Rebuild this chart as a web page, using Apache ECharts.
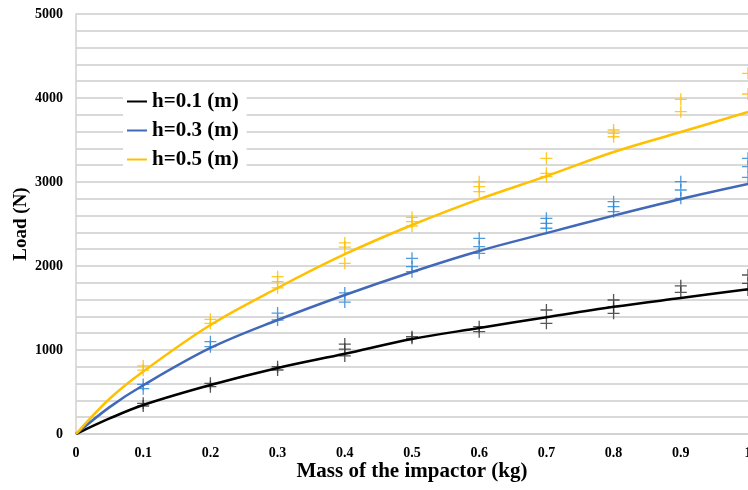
<!DOCTYPE html>
<html>
<head>
<meta charset="utf-8">
<script src="https://cdn.jsdelivr.net/npm/echarts@6/dist/echarts.min.js"></script>
<style>html,body{margin:0;padding:0;background:#fff}#c{width:748px;height:490px}</style>
</head>
<body>
<div id="c"></div>
<script>
// Fitted curves (x = mass in kg)
const curveX = [0, 0.05, 0.1, 0.2, 0.3, 0.4, 0.5, 0.6, 0.7, 0.8, 0.9, 1.0];
const lineH01 = [0, 185, 345, 583, 786, 955, 1131, 1262, 1390, 1514, 1619, 1722];
const lineH03 = [0, 320, 580, 1024, 1357, 1655, 1929, 2179, 2391, 2600, 2798, 2976];
const lineH05 = [0, 420, 745, 1298, 1738, 2140, 2488, 2796, 3070, 3357, 3595, 3833];

// Measured points [mass, load]
const pointsH01 = [[0.1,365],[0.1,333],[0.2,603],[0.2,563],[0.3,801],[0.3,762],
  [0.4,1070],[0.4,1010],[0.4,930],[0.5,1159],[0.5,1139],[0.6,1278],[0.6,1218],
  [0.7,1476],[0.7,1317],[0.8,1595],[0.8,1516],[0.8,1437],[0.9,1764],[0.9,1685],
  [1.0,1893],[1.0,1794],[1.0,1714]];
const pointsH03 = [[0.1,590],[0.1,540],[0.2,1099],[0.2,1040],[0.3,1440],[0.3,1357],
  [0.4,1680],[0.4,1570],[0.5,2091],[0.5,1992],[0.5,1932],[0.6,2329],[0.6,2230],[0.6,2151],
  [0.7,2568],[0.7,2508],[0.7,2449],[0.8,2766],[0.8,2706],[0.8,2647],
  [0.9,3004],[0.9,2905],[0.9,2806],[1.0,3282],[1.0,3183],[1.0,3056]];
const pointsH05 = [[0.1,810],[0.1,760],[0.2,1365],[0.2,1318],[0.3,1873],[0.3,1813],[0.3,1740],
  [0.4,2275],[0.4,2225],[0.4,2032],[0.5,2579],[0.5,2528],[0.5,2476],
  [0.6,3004],[0.6,2944],[0.6,2885],[0.7,3282],[0.7,3103],[0.7,3063],
  [0.8,3619],[0.8,3579],[0.8,3539],[0.9,3984],[0.9,3837],[1.0,4294],[1.0,4048]];

const seriesNames = ['h=0.1 (m)', 'h=0.3 (m)', 'h=0.5 (m)'];
const xTickLabels = ['0','0.1','0.2','0.3','0.4','0.5','0.6','0.7','0.8','0.9','1'];
const yTickLabels = ['0','1000','2000','3000','4000','5000'];

const FONT = '"Liberation Serif", "Times New Roman", serif';
const plus = 'path://M0,4.45H10V5.55H0Z M4.45,0H5.55V10H4.45Z';

function zip(xs, ys){ return xs.map((x,i)=>[x, ys[i]]); }
function lineSeries(name, ys, color){
  return { name, type:'line', data: zip(curveX, ys), smooth: 0.35, showSymbol:false,
    lineStyle:{ color, width:2.5 }, itemStyle:{ color }, z:3, silent:true };
}
function scatterSeries(pts, color){
  return { name: 'pts', type:'scatter', data: pts, symbol: plus, symbolSize: 12,
    itemStyle:{ color, opacity:0.85 }, z:2, silent:true, clip:false };
}

const chart = echarts.init(document.getElementById('c'), null, {renderer:'canvas'});
chart.setOption({
  animation:false,
  backgroundColor:'#fff',
  grid:{ left:76, right:0, top:14, bottom:56, outerBoundsMode:'none', containLabel:false },
  legend:{
    data: seriesNames, orient:'vertical', left:123, top:88,
    backgroundColor:'#fff', padding:[3,8,4,4], itemWidth:20, itemHeight:12, itemGap:8,
    textStyle:{ fontFamily:FONT, fontWeight:'bold', fontSize:21, color:'#000' },
    icon:'path://M0,5H20V7H0Z'
  },
  xAxis:{
    type:'value', min:0, max:1, interval:0.1,
    name:'Mass of the impactor (kg)', nameLocation:'middle', nameGap:27, nameMoveOverlap:false,
    nameTextStyle:{ fontFamily:FONT, fontWeight:'bold', fontSize:21, color:'#000' },
    axisLine:{ lineStyle:{ color:'#d0d0d0', width:1.5 } },
    axisTick:{ show:false },
    splitLine:{ show:false },
    axisLabel:{ fontFamily:FONT, fontWeight:'bold', fontSize:14, color:'#000', margin:12,
      hideOverlap:false, formatter: v => xTickLabels[Math.round(v*10)] }
  },
  yAxis:{
    type:'value', min:0, max:5000, interval:1000,
    name:'Load (N)', nameLocation:'middle', nameGap:45, nameRotate:90, nameMoveOverlap:false,
    nameTextStyle:{ fontFamily:FONT, fontWeight:'bold', fontSize:19, color:'#000' },
    axisLine:{ show:true, lineStyle:{ color:'#d0d0d0', width:1.5 } },
    axisTick:{ show:false },
    minorTick:{ show:false, splitNumber:5 },
    splitLine:{ lineStyle:{ color:'#d9d9d9', width:2 } },
    minorSplitLine:{ show:true, lineStyle:{ color:'#d9d9d9', width:2 } },
    axisLabel:{ fontFamily:FONT, fontWeight:'bold', fontSize:14, color:'#000', margin:13,
      formatter: v => yTickLabels[Math.round(v/1000)] }
  },
  series:[
    scatterSeries(pointsH01, '#3a3a3a'),
    scatterSeries(pointsH03, '#2f8ad8'),
    scatterSeries(pointsH05, '#ffc000'),
    lineSeries(seriesNames[0], lineH01, '#000000'),
    lineSeries(seriesNames[1], lineH03, '#4169b8'),
    lineSeries(seriesNames[2], lineH05, '#ffc000')
  ]
});
</script>
</body>
</html>
